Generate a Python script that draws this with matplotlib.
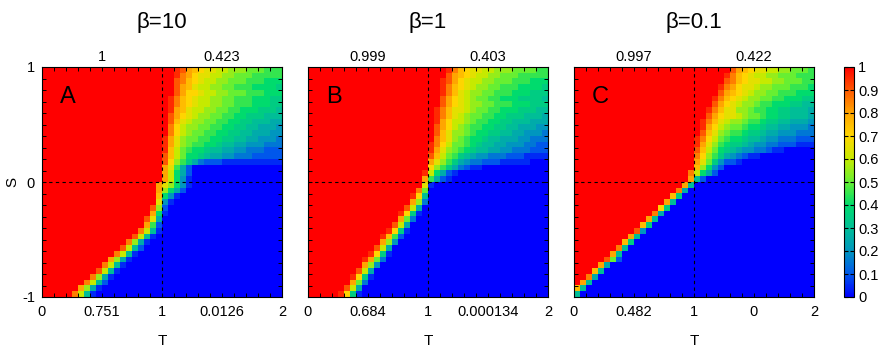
import numpy as np
import matplotlib.pyplot as plt
from matplotlib.colors import LinearSegmentedColormap

plt.rcParams['font.family'] = ['Liberation Sans', 'DejaVu Sans']

# cell values coded as one character each: index in LEVELS / 20  (K = 1.0)
LEVELS = "0123456789ABCDEFGHIJK"

betas = ["β=10", "β=1", "β=0.1"]
letters = ["A", "B", "C"]
top_vals = [["1", "0.423"], ["0.999", "0.403"], ["0.997", "0.422"]]
bottom_vals = [["0.751", "0.0126"], ["0.684", "0.000134"], ["0.482", "0"]]

# each row (top S=1 -> bottom S=-1): number of leading 1.0 cells, then the rest
rows_A = [
    (20, "KKJIGFEDDCCBBBAAA999"), (20, "KKJHGEDDCCBBAAA99999"),
    (20, "KKIHFEDCCBBAAA999888"), (20, "KKIGFDCCBBAA99988887"),
    (20, "KKIGEEDCCBBAAA999888"), (20, "KJHFEDCCBBAA99988877"),
    (20, "KJHFEDCCBBAA99988877"), (20, "KJGFDCCBBAA998887776"),
    (20, "KIGEDCBBAA9988777666"), (20, "KIFDCBBAA99887766655"),
    (20, "KHECBBAA998877665554"), (20, "KHECBAA9988776655544"),
    (20, "JGDBAA99887766554443"), (20, "JGDBA998876655444333"),
    (20, "JFCA9887665544333222"), (20, "IFCA8876554433322222"),
    (20, "IEB97532221111111111"), (20, "GD952"),
    (20, "GC852"), (20, "GC841"),
    (19, "GDB841"), (19, "GB852"), (19, "F841"), (19, "D41"),
    (18, "IB2"), (18, "G81"), (17, "ID5"), (17, "G92"),
    (16, "HC61"), (15, "IC61"), (14, "HB51"), (13, "IC62"),
    (12, "HC61"), (11, "GB51"), (10, "HC61"), (9, "IC61"),
    (8, "HB51"), (7, "HC62"), (6, "GB51"), (5, "HC61"),
]

rows_B = [
    (20, "KKKJHFEDDCCBBBAAAA99"), (20, "KKKIGFEDCCBBAAA99999"),
    (20, "KKJIGEDCCBBAAA999888"), (20, "KKJHFEDCBBAA99988887"),
    (20, "KKJHFDCBBAA999888777"), (20, "KKIGEDCBAA9988877776"),
    (20, "KKIGEDCBBAA999888777"), (20, "KJHFDDCBAA9988877766"),
    (20, "KJHFDCBAA99887776665"), (20, "KJGECCBA998877666555"),
    (20, "KIGECBA9988776655544"), (20, "KIFDBBA9887766554443"),
    (20, "KHFDBA98876655544333"), (20, "JHECAA98766554443322"),
    (20, "JGDBA987665544333222"), (20, "IFCA9765443332221111"),
    (20, "GDB97543322211111"), (20, "EB9753211"),
    (19, "JC8521"), (19, "G9521"),
    (19, "D1"), (18, "HA"), (17, "JE6"), (17, "GB3"),
    (16, "IC5"), (15, "JE71"), (15, "GA3"), (14, "IC5"),
    (13, "JE71"), (12, "JF92"), (12, "GB4"), (11, "IC5"),
    (10, "JE71"), (9, "JGA3"), (9, "GB4"), (8, "IC5"),
    (7, "JE71"), (7, "GA3"), (6, "IC5"), (5, "JE71"),
]

rows_C = [
    (20, "KKKKKKIGFEDDCCBBAAA9"), (20, "KKKKKJHFEDCCBBAAA999"),
    (20, "KKKKKIHFEDDCCBBAAA99"), (20, "KKKKJHGEDDCBBAAA9998"),
    (20, "KKKKIGFEDCBBAA999888"), (20, "KKKJHFEDCBBAA9988877"),
    (20, "KKKIGEDCBBA998887766"), (20, "KKJHFDDBBA9988776665"),
    (20, "KKIGEDDCBAA988776665"), (20, "KJHFDCBBA99877665554"),
    (20, "KJGECBAA988766554443"), (20, "KIFDBA99877655444333"),
    (20, "JHECA988766544333222"), (20, "JGDB9877654433222111"),
    (20, "IFCA87654433211"), (20, "HEB97543211"),
    (20, "GDA74221"), (20, "FB842"),
    (19, "HC852"), (19, "G62"),
    (18, "G6"), (17, "H5"), (16, "F7"), (15, "G6"),
    (14, "E7"), (13, "H5"), (12, "G6"), (11, "F7"),
    (10, "I4"), (9, "G6"), (8, "F7"), (7, "H6"),
    (6, "G6"), (5, "IA2"), (4, "G5"), (3, "F6"),
    (2, "H5"), (1, "G6"), (0, "F6"), (0, "6"),
]

cbar_ticks = [0, 0.1, 0.2, 0.3, 0.4, 0.5, 0.6, 0.7, 0.8, 0.9, 1]
cbar_labels = ["0", "0.1", "0.2", "0.3", "0.4", "0.5", "0.6", "0.7", "0.8", "0.9", "1"]

cmap = LinearSegmentedColormap.from_list("coop", [
    (0, 0, 1), (0, 0.35, 0.92), (0, 0.59, 0.75), (0, 0.75, 0.59),
    (0, 0.86, 0.43), (0.4, 0.94, 0.2), (0.78, 0.92, 0), (1, 0.84, 0),
    (1, 0.65, 0), (1, 0.35, 0), (1, 0, 0)])


def build(rows):
    grid = []
    for n, tail in rows:
        s = ("K" * n + tail).ljust(40, "0")
        grid.append([LEVELS.index(ch) / 20 for ch in s])
    return np.array(grid)


fig = plt.figure(figsize=(8.84, 3.53), dpi=100)
W, H = 884, 353
lefts = [42, 308, 574]
grids = [build(rows_A), build(rows_B), build(rows_C)]

for k in range(3):
    ax = fig.add_axes([lefts[k] / W, 56 / H, 240 / W, 230 / H])
    im = ax.imshow(grids[k], extent=(0, 2, -1, 1), origin='upper', cmap=cmap,
                   vmin=0, vmax=1, interpolation='nearest', aspect='auto')
    ax.axvline(1, color='k', ls=(0, (3, 3)), lw=0.8)
    ax.axhline(0, color='k', ls=(0, (3, 3)), lw=0.8)
    ax.set_xlim(0, 2)
    ax.set_ylim(-1, 1)

    ax.set_xticks([0, 0.5, 1, 1.5, 2])
    ax.set_xticklabels(["0", bottom_vals[k][0], "1", bottom_vals[k][1], "2"])
    ax.set_xticks(np.arange(0, 2.01, 0.1), minor=True)
    ax.set_yticks([-1, 0, 1])
    ax.set_yticks(np.arange(-1, 1.01, 0.1), minor=True)
    if k == 0:
        ax.set_yticklabels(["-1", "0", "1"])
    else:
        ax.set_yticklabels([])
    ax.tick_params(which='both', direction='in', length=3, width=0.7,
                   top=True, right=True, labelsize=10.5)
    ax.tick_params(axis='x', pad=6)
    ax.tick_params(axis='y', pad=5)
    for sp in ax.spines.values():
        sp.set_linewidth(0.8)

    xt = ax.get_xaxis_transform()
    ax.text(0.5, 1.045, top_vals[k][0], transform=xt, ha='center', va='center', fontsize=10.5)
    ax.text(1.5, 1.045, top_vals[k][1], transform=xt, ha='center', va='center', fontsize=10.5)
    ax.text(1.0, -0.19, "T", transform=xt, ha='center', va='center', fontsize=11)
    ax.text(0.15, 0.74, letters[k], ha='left', va='center', fontsize=17)
    ax.set_title(betas[k], fontsize=16, pad=28)
    if k == 0:
        ax.text(-0.125, 0.5, "S", transform=ax.transAxes, ha='center', va='center',
                fontsize=11, rotation=90)

cax = fig.add_axes([844 / W, 56 / H, 10 / W, 230 / H])
cb = fig.colorbar(im, cax=cax, ticks=cbar_ticks)
cb.ax.set_yticklabels(cbar_labels)
cb.ax.tick_params(direction='in', length=3, width=0.8, left=True, right=True,
                  labelsize=10.5, pad=3)
cb.outline.set_linewidth(0.8)

fig.savefig("out.png", dpi=100)
